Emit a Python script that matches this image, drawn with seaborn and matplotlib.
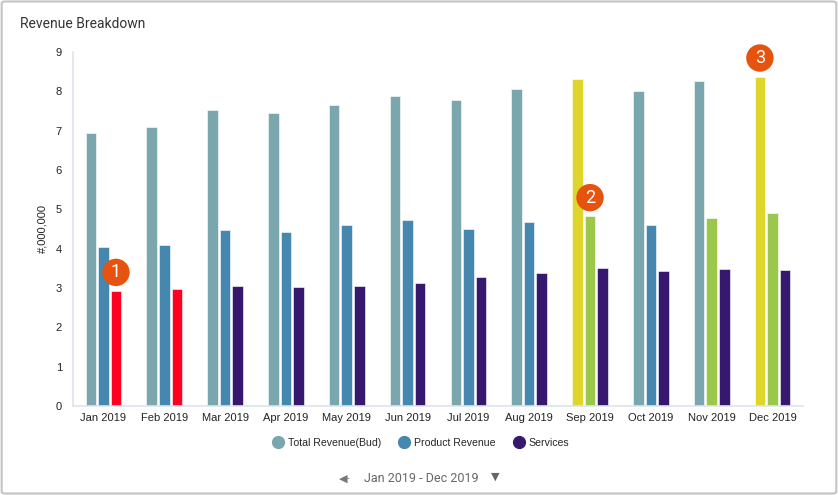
import numpy as np
import pandas as pd
import seaborn as sns
import matplotlib
matplotlib.use("Agg")
import matplotlib.pyplot as plt
from matplotlib.lines import Line2D
from matplotlib.patches import FancyBboxPatch

# data
months = ['Jan 2019', 'Feb 2019', 'Mar 2019', 'Apr 2019', 'May 2019', 'Jun 2019',
          'Jul 2019', 'Aug 2019', 'Sep 2019', 'Oct 2019', 'Nov 2019', 'Dec 2019']
series = ['Total Revenue(Bud)', 'Product Revenue', 'Services']
total_rev = [6.94, 7.09, 7.53, 7.45, 7.66, 7.87, 7.79, 8.06, 8.31, 8.02, 8.26, 8.37]
product_rev = [4.03, 4.10, 4.48, 4.43, 4.61, 4.72, 4.51, 4.69, 4.82, 4.61, 4.77, 4.90]
services = [2.92, 2.98, 3.04, 3.02, 3.04, 3.12, 3.28, 3.37, 3.52, 3.42, 3.49, 3.47]

series_colors = ['#7aa6ae', '#4587ae', '#36196f']
# (month index, series index, colour) for highlighted bars
highlights = [(0, 2, '#ff0020'), (1, 2, '#ff0020'),
              (8, 0, '#dfd52b'), (8, 1, '#9bc84b'),
              (10, 1, '#9bc84b'),
              (11, 0, '#dfd52b'), (11, 1, '#9bc84b')]
# numbered markers: (label, month index, series index)
markers = [('1', 0, 2), ('2', 8, 1), ('3', 11, 0)]

df = pd.DataFrame({
    'Month': months * 3,
    'Series': np.repeat(series, len(months)),
    'Value': total_rev + product_rev + services,
})

sns.set_style("white")
plt.rcParams['font.family'] = ['Roboto', 'DejaVu Sans']

fig = plt.figure(figsize=(8.38, 4.95), dpi=100)
ax = fig.add_axes([0.0871, 0.1798, 0.871, 0.7152])

sns.barplot(data=df, x='Month', y='Value', hue='Series', order=months,
            hue_order=series, palette=series_colors, saturation=1,
            width=0.62, gap=0.16, edgecolor='white', linewidth=0.4,
            legend=False, ax=ax)

# recolor highlighted bars (patches are ordered by hue, then month)
n = len(months)
for m, s, c in highlights:
    ax.patches[s * n + m].set_facecolor(c)

for lab, m, s in markers:
    p = ax.patches[s * n + m]
    xc = p.get_x() + p.get_width() / 2
    ax.annotate(lab, xy=(xc, p.get_height()), xytext=(0, 13.5),
                textcoords='offset points', ha='center', va='center',
                color='white', fontsize=13,
                bbox=dict(boxstyle='circle,pad=0.26', fc='#e6530f', ec='none'))

ax.set_ylim(0, 9)
ax.set_yticks(range(0, 10))
ax.set_xlim(-0.5, n - 0.5)
ax.set_xlabel('')
ax.set_ylabel('#,000,000', fontsize=8, color='#222222', labelpad=6,
              family=['Liberation Sans', 'DejaVu Sans'])

for side in ['top', 'right']:
    ax.spines[side].set_visible(False)
for side in ['left', 'bottom']:
    ax.spines[side].set_color('#dde3ee')
    ax.spines[side].set_linewidth(1.2)

ax.tick_params(axis='y', length=5, color='#dde3ee', labelsize=8, labelcolor='#222222', pad=3)
ax.tick_params(axis='x', which='major', length=0, labelsize=8, labelcolor='#222222', pad=5)
ax.set_xticks(np.arange(-0.5, n, 1.0), minor=True)
ax.tick_params(axis='x', which='minor', length=6, color='#dde3ee', width=1.2)
for t in ax.get_xticklabels() + ax.get_yticklabels():
    t.set_family(['Liberation Sans', 'DejaVu Sans'])

fig.text(0.024, 0.951, 'Revenue Breakdown', fontsize=10, color='#333333', va='center')

handles = [Line2D([], [], marker='o', ls='', markersize=8.5, color=c) for c in series_colors]
fig.legend(handles, series, loc='center', bbox_to_anchor=(0.501, 0.105), ncol=3,
           frameon=False, handletextpad=0.25, columnspacing=1.5, handlelength=1.4,
           prop={'family': ['Liberation Sans', 'DejaVu Sans'], 'size': 7.6})

fig.text(0.405, 0.034, '\u25c0-', fontsize=8, color='#777777', va='center', ha='left')
fig.text(0.434, 0.034, 'Jan 2019 - Dec 2019', fontsize=9, color='#666666', va='center', ha='left')
fig.text(0.586, 0.038, '\u25bc', fontsize=8, color='#666666', va='center', ha='left')

border = FancyBboxPatch((0.002, 0.003), 0.996, 0.994, boxstyle='round,pad=0,rounding_size=0.004',
                        transform=fig.transFigure, fill=False, ec='#c4c4c4', lw=1.5)
fig.patches.append(border)

plt.savefig('out.png', dpi=100)
